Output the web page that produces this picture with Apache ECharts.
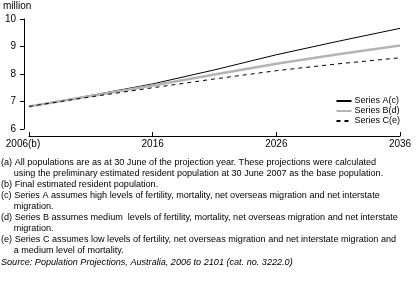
<!DOCTYPE html>
<html>
<head>
<meta charset="utf-8">
<script src="https://cdn.jsdelivr.net/npm/echarts@6/dist/echarts.min.js"></script>
<style>
html,body{margin:0;padding:0;background:#fff;}
#chart{width:416px;height:283px;}
</style>
</head>
<body>
<div id="chart"></div>
<script>
// years and projected population (million)
var years = [2006, 2011, 2016, 2021, 2026, 2031, 2036];
var seriesA = [6.82, 7.22, 7.64, 8.15, 8.70, 9.19, 9.66];
var seriesB = [6.82, 7.20, 7.58, 7.98, 8.37, 8.72, 9.04];
var seriesC = [6.82, 7.17, 7.50, 7.82, 8.12, 8.37, 8.59];
var seriesNames = ['Series A(c)', 'Series B(d)', 'Series C(e)'];
var xTicks = [2006, 2016, 2026, 2036];

var notes = [
    '(a) All populations are as at 30 June of the projection year. These projections were calculated',
    '     using the preliminary estimated resident population at 30 June 2007 as the base population.',
    '(b) Final estimated resident population.',
    '(c) Series A assumes high levels of fertility, mortality, net overseas migration and net interstate',
    '     migration.',
    '(d) Series B assumes medium  levels of fertility, mortality, net overseas migration and net interstate',
    '     migration.',
    '(e) Series C assumes low levels of fertility, net overseas migration and net interstate migration and',
    '     a medium level of mortality.'
];
var source = 'Source: Population Projections, Australia, 2006 to 2101 (cat. no. 3222.0)';

function pairs(vals){
    var out = [];
    for (var i = 0; i < years.length; i++) {
        out.push([years[i], vals[i]]);
    }
    return out;
}

var font = 'Arial, "Liberation Sans", sans-serif';
var graphics = [];
//脚注
for (var i = 0; i < notes.length; i++) {
    graphics.push({
        type:'text', left:1, top:158 + i * 11,
        style:{text:notes[i], font:'9.1px ' + font, fill:'#000'}
    });
}
graphics.push({
    type:'text', left:1, top:258,
    style:{text:source, font:'italic 9.1px ' + font, fill:'#000'}
});
graphics.push({
    type:'text', left:3, top:1,
    style:{text:'million', font:'10px ' + font, fill:'#000'}
});

var chart = echarts.init(document.getElementById('chart'));
chart.setOption({
    animation:false,
    grid:{left:29, right:16, top:19, bottom:154},
    legend:{
        orient:'vertical', right:16, top:96, itemGap:0, padding:0,
        itemWidth:15, itemHeight:8,
        itemStyle:{opacity:0},
        textStyle:{fontSize:9, fontFamily:font, color:'#000', lineHeight:10, padding:[0,0,0,-2]},
        data:seriesNames
    },
    xAxis:{
        type:'value', min:2006, max:2036, interval:10,
        offset:7,
        axisLine:{lineStyle:{color:'#000', width:1}},
        axisTick:{inside:true, length:4, lineStyle:{color:'#000'}},
        splitLine:{show:false},
        axisLabel:{
            fontSize:10, fontFamily:font, color:'#000', margin:3,
            customValues:xTicks,
            formatter:function(v){
                return v === 2006 ? '{f|2006(b)}' : String(v);
            },
            rich:{f:{fontSize:10, fontFamily:font, color:'#000', padding:[0,12,0,0]}}
        }
    },
    yAxis:{
        type:'value', min:6, max:10, interval:1,
        offset:5,
        axisLine:{show:true, lineStyle:{color:'#000', width:1}},
        axisTick:{show:true, length:4, lineStyle:{color:'#000'}},
        splitLine:{show:false},
        axisLabel:{fontSize:10, fontFamily:font, color:'#000', margin:8}
    },
    series:[
        {name:seriesNames[0], type:'line', data:pairs(seriesA), symbol:'none',
         lineStyle:{color:'#000', width:1}, itemStyle:{color:'#000'}},
        {name:seriesNames[1], type:'line', data:pairs(seriesB), symbol:'none',
         lineStyle:{color:'#b4b4b4', width:2.5}, itemStyle:{color:'#b4b4b4'}},
        {name:seriesNames[2], type:'line', data:pairs(seriesC), symbol:'none',
         lineStyle:{color:'#000', width:1, type:[4,4]}, itemStyle:{color:'#000'}}
    ],
    graphic:graphics
});
</script>
</body>
</html>
